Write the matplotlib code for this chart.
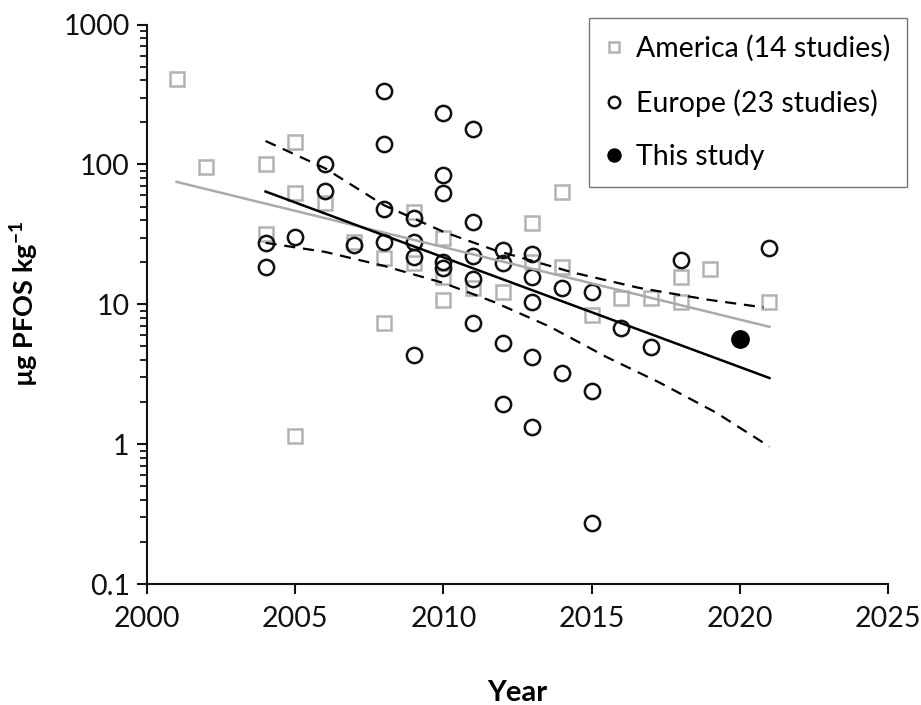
import matplotlib
matplotlib.use("Agg")
import matplotlib.pyplot as plt
from matplotlib.ticker import FixedLocator, LogLocator, NullFormatter

plt.rcParams['font.family'] = ['Lato', 'DejaVu Sans']
plt.rcParams['mathtext.fontset'] = 'custom'
plt.rcParams['mathtext.rm'] = 'Lato'
plt.rcParams['mathtext.bf'] = 'Lato:bold'
plt.rcParams['mathtext.default'] = 'bf'

# America studies (grey squares)
am_year = [2001, 2002, 2004, 2004, 2005, 2005, 2005, 2006, 2007, 2008, 2008,
           2009, 2009, 2010, 2010, 2010, 2011, 2012, 2013, 2013, 2014, 2014,
           2015, 2016, 2017, 2018, 2018, 2019, 2021]
am_val = [408, 96, 101, 32, 145, 62.5, 1.15, 53, 28, 21.5, 7.3,
          45.8, 19.8, 29.9, 15.7, 10.8, 13.1, 12.3, 38.2, 20.1, 63.7, 18.5,
          8.4, 11.1, 11.1, 15.7, 10.4, 17.9, 10.4]

# Europe studies (open black circles)
eu_year = [2004, 2004, 2005, 2006, 2006, 2007, 2008, 2008, 2008, 2008,
           2009, 2009, 2009, 2009, 2010, 2010, 2010, 2010, 2010,
           2011, 2011, 2011, 2011, 2011, 2012, 2012, 2012, 2012,
           2013, 2013, 2013, 2013, 2013, 2014, 2014, 2015, 2015, 2015,
           2016, 2017, 2018, 2021]
eu_val = [27.5, 18.5, 30.3, 101, 64.7, 26.6, 335, 140, 48, 27.9,
          41.5, 27.9, 21.8, 4.35, 233, 84, 62.5, 20.1, 18.2,
          179, 38.8, 22.0, 15.2, 7.4, 24.5, 19.8, 5.3, 1.95,
          23.0, 15.7, 10.4, 4.2, 1.33, 13.1, 3.24, 12.3, 2.41, 0.275,
          6.8, 4.97, 20.8, 25.3]

# this study
this_year = [2020]
this_val = [5.68]

# trend lines
am_fit_year = [2001, 2021]
am_fit_val = [75, 6.9]
eu_fit_year = [2004, 2021]
eu_fit_val = [64, 2.97]
ci_up_year = [2004, 2006, 2008, 2010, 2011.7, 2014.4, 2016.6, 2018.9, 2020.8]
ci_up_val = [147, 94, 51, 33, 24.5, 16.8, 13.1, 10.8, 9.5]
ci_lo_year = [2004, 2006, 2008, 2010, 2011.7, 2013.6, 2015.5, 2017.3,
              2019.2, 2021]
ci_lo_val = [27.5, 23.7, 18.8, 14.2, 10.4, 6.9, 4.2, 2.75, 1.68, 0.96]

grey = '#b3b3b3'

fig = plt.figure(figsize=(9.21, 7.05), dpi=100)
ax = fig.add_axes([0.1596, 0.1716, 0.8046, 0.7936])

ax.plot(am_year, am_val, 's', ms=10, mfc='white', mec=grey, mew=1.8,
        label='America (14 studies)')
ax.plot(eu_year, eu_val, 'o', ms=11, mfc='none', mec='#111111', mew=1.8,
        label='Europe (23 studies)')
ax.plot(this_year, this_val, 'o', ms=12.5, mfc='black', mec='black',
        label='This study')

ax.plot(am_fit_year, am_fit_val, '-', color='#aaaaaa', lw=1.8)
ax.plot(eu_fit_year, eu_fit_val, '-', color='black', lw=1.8)
ax.plot(ci_up_year, ci_up_val, '--', color='black', lw=1.6, dashes=(5, 3.5))
ax.plot(ci_lo_year, ci_lo_val, '--', color='black', lw=1.6, dashes=(5, 3.5))

ax.set_yscale('log')
ax.set_xlim(2000, 2025)
ax.set_ylim(0.1, 1000)
ax.set_xticks([2000, 2005, 2010, 2015, 2020, 2025])
ax.yaxis.set_major_locator(FixedLocator([0.1, 1, 10, 100, 1000]))
ax.set_yticklabels(['0.1', '1', '10', '100', '1000'])
ax.yaxis.set_minor_locator(LogLocator(base=10, subs=range(2, 10)))
ax.yaxis.set_minor_formatter(NullFormatter())

for s in ['top', 'right']:
    ax.spines[s].set_visible(False)
for s in ['left', 'bottom']:
    ax.spines[s].set_linewidth(1.5)
    ax.spines[s].set_color('#111111')

ax.tick_params(axis='both', which='major', direction='out', length=7.5,
               width=1.5, labelsize=20.5, colors='#111111', pad=5)
ax.tick_params(axis='y', which='minor', direction='out', length=5, width=1.3,
               colors='#111111')
ax.tick_params(axis='x', pad=8)

ax.set_xlabel('Year', fontsize=21, fontweight='bold', labelpad=35)
ax.set_ylabel('µg PFOS kg$^{-1}$', fontsize=19.5, fontweight='bold',
              labelpad=16)

leg = ax.legend(loc='upper right', bbox_to_anchor=(0.9848, 0.9745),
                bbox_transform=fig.transFigure, fontsize=20.5, frameon=True,
                fancybox=False, edgecolor='#555555', handlelength=0.6,
                handletextpad=0.45, labelspacing=0.95, borderpad=0.6,
                borderaxespad=0, markerscale=0.75)
leg.get_frame().set_linewidth(1.0)

fig.savefig('out.png', dpi=100)
